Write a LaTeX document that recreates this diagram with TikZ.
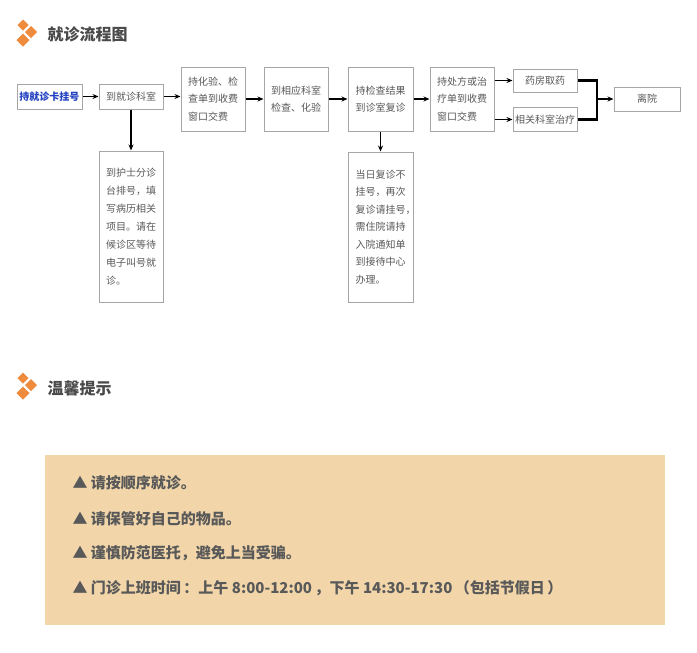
\documentclass[tikz,border=0pt]{standalone}
\usepackage{fontspec}
\setmainfont{Noto Sans CJK SC}
\usetikzlibrary{arrows.meta}
\definecolor{boxgray}{HTML}{A6A6A6}
\definecolor{txtgray}{HTML}{595959}
\definecolor{headgray}{HTML}{4A4A4A}
\definecolor{iconorange}{HTML}{EE8B3D}
\definecolor{cardblue}{HTML}{2040C0}
\definecolor{tipbeige}{HTML}{F2D6A9}

\begin{document}
\begin{tikzpicture}[x=1pt,y=-1pt,
        box/.style={draw=boxgray, line width=1pt, text=txtgray, inner sep=0pt,
            font=\fontsize{10}{17.5}\selectfont, align=center},
        textbox/.style={box, text width=50pt, inner xsep=7pt, align=left},
        flow/.style={-{Stealth[length=6pt,width=5pt]}, line width=1.2pt},
        bracket/.style={line width=2.6pt, line join=miter},
        heading/.style={anchor=west, text=headgray, font=\fontsize{16}{16}\selectfont\bfseries},
        tip/.style={anchor=west, text=txtgray, font=\fontsize{15}{15}\selectfont\bfseries}]
    \useasboundingbox (0,0) rectangle (697,653);
    \fill[white] (0,0) rectangle (697,653);

    % heading icons
    \foreach \dy in {0,353}{
        \foreach \cx/\cy/\rad in {23/25/5.5, 31/32/6, 23/40/6.5}
            \fill[iconorange] (\cx,\cy+\dy) ++(0,-\rad) -- ++(\rad,\rad) -- ++(-\rad,\rad) -- ++(-\rad,-\rad) -- cycle;
    }
    \node[heading] (flowtitle) at (44,34) {就诊流程图};
    \node[heading] (tiptitle) at (44,388) {温馨提示};

    % flow chart
    \node[box, minimum width=65, minimum height=25, text=cardblue,
        font=\fontsize{10}{12}\selectfont\bfseries] (card) at (49.5,96.5) {持就诊卡挂号};
    \node[box, minimum width=64, minimum height=25] (dept) at (131,96.5) {到就诊科室};
    \node[textbox, minimum height=64] (pay1) at (213,99) {持化验、检\\查单到收费\\窗口交费};
    \node[box, minimum width=64, minimum height=64] (exam) at (296,99) {到相应科室\\检查、化验};
    \node[box, minimum width=65, minimum height=64] (revisit) at (380.5,99) {持检查结果\\到诊室复诊};
    \node[textbox, minimum height=64] (pay2) at (462,99) {持处方或治\\疗单到收费\\窗口交费};
    \node[box, minimum width=64, minimum height=23] (pharm) at (545,80.5) {药房取药};
    \node[box, minimum width=64, minimum height=24] (treat) at (545,119.5) {相关科室治疗};
    \node[box, minimum width=66, minimum height=24] (leave) at (647,99) {离院};
    \node[textbox, minimum height=151, font=\fontsize{10}{18}\selectfont] (nurse) at (131,226.5)
        {到护士分诊\\台排号，填\\写病历相关\\项目。请在\\候诊区等待\\电子叫号就\\诊。};
    \node[textbox, minimum height=150, inner xsep=7.5pt, font=\fontsize{10}{17.5}\selectfont] (note) at (380.5,227)
        {当日复诊不\\挂号，再次\\复诊请挂号，\\需住院请持\\入院通知单\\到接待中心\\办理。};
    \coordinate (join) at (597,99);

    \draw[flow] (card) -- (dept);
    \draw[flow] (dept.east) -- (dept.east -| pay1.west);
    \draw[flow] (pay1) -- (exam);
    \draw[flow] (exam) -- (revisit);
    \draw[flow] (revisit) -- (pay2);
    \draw[flow] (pay2.east |- pharm) -- (pharm);
    \draw[flow] (pay2.east |- treat) -- (treat);
    \draw[bracket] (pharm.east) -| (join |- treat.east) -- (treat.east);
    \draw[flow] (join) -- (leave);
    \draw[flow] (dept) -- (nurse);
    \draw[flow] (revisit) -- (note);

    % tips
    \fill[tipbeige] (45,455) rectangle (665,625);
    \node[tip] (tip1) at (69,483) {▲ 请按顺序就诊。};
    \node[tip] (tip2) at (69,519) {▲ 请保管好自己的物品。};
    \node[tip] (tip3) at (69,553) {▲ 谨慎防范医托，避免上当受骗。};
    \node[tip] (tip4) at (69,588) {▲ 门诊上班时间\,：上午 8:00-12:00\,，下午 14:30-17:30\,（包括节假日\,）};
\end{tikzpicture}
\end{document}
